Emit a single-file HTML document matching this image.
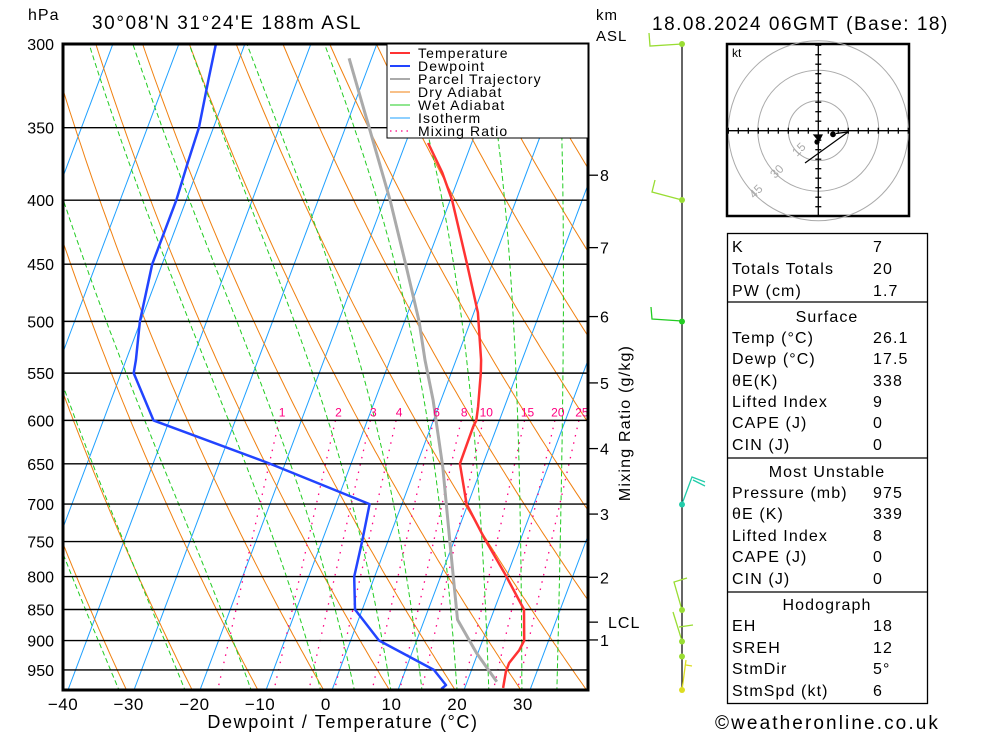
<!DOCTYPE html>
<html><head><meta charset="utf-8"><title>Skew-T</title>
<style>
html,body{margin:0;padding:0;background:#fff;}
svg{display:block;font-family:"Liberation Sans",sans-serif;}
.t16{font-size:16px;letter-spacing:1.1px;}
</style></head>
<body>
<svg id="chart" width="1000" height="733" viewBox="0 0 1000 733" xmlns="http://www.w3.org/2000/svg">
  <defs><clipPath id="plotclip"><rect x="63" y="44" width="525" height="646"/></clipPath></defs>
  <rect x="0" y="0" width="1000" height="733" fill="#fff"/>
  <text x="28" y="20" font-size="16" letter-spacing="1">hPa</text>
  <text x="92" y="29" font-size="19" letter-spacing="1.6">30°08'N 31°24'E 188m ASL</text>
  <text x="652" y="30" font-size="19" letter-spacing="1.5">18.08.2024 06GMT (Base: 18)</text>
  <text x="596" y="20" font-size="15" letter-spacing="1">km</text>
  <text x="596" y="41" font-size="15" letter-spacing="1">ASL</text>
  <g id="grid" clip-path="url(#plotclip)"></g>
  <g id="plevels"></g>
  <g id="series" clip-path="url(#plotclip)"></g>
  <g id="mrlabels"></g>
  <rect x="63" y="44" width="525" height="646" fill="none" stroke="#000" stroke-width="3"/>
  <g id="xaxis"></g>
  <text x="343" y="728" font-size="18" letter-spacing="1.6" text-anchor="middle">Dewpoint / Temperature (°C)</text>
  <g id="kmaxis"></g>
  <text transform="translate(630,423) rotate(-90)" font-size="16" letter-spacing="1.2" text-anchor="middle">Mixing Ratio (g/kg)</text>

  <g>
    <rect x="387" y="44" width="201" height="94" fill="#fff" stroke="#000" stroke-width="1"/>
    <g font-size="14" letter-spacing="1.1">
      <line x1="390" y1="53" x2="410" y2="53" stroke="#ff3333" stroke-width="2"/><text x="418" y="58">Temperature</text>
      <line x1="390" y1="66" x2="410" y2="66" stroke="#2244ff" stroke-width="2"/><text x="418" y="71">Dewpoint</text>
      <line x1="390" y1="79" x2="410" y2="79" stroke="#aaaaaa" stroke-width="2"/><text x="418" y="84">Parcel Trajectory</text>
      <line x1="390" y1="92" x2="410" y2="92" stroke="#f08010" stroke-width="1"/><text x="418" y="97">Dry Adiabat</text>
      <line x1="390" y1="105" x2="410" y2="105" stroke="#22cc22" stroke-width="1"/><text x="418" y="110">Wet Adiabat</text>
      <line x1="390" y1="118" x2="410" y2="118" stroke="#1ea0ff" stroke-width="1"/><text x="418" y="123">Isotherm</text>
      <line x1="390" y1="131" x2="410" y2="131" stroke="#ff0080" stroke-width="1.2" stroke-dasharray="1.5,4"/><text x="418" y="136">Mixing Ratio</text>
    </g>
  </g>

  <g fill="none" stroke-width="1.3">
    <line x1="682" y1="44" x2="682" y2="690" stroke="#000" stroke-width="1.2"/>
    <polyline points="682,44 650,46 649,33" stroke="#99dd33"/>
    <polyline points="682,200 652,192 655,180" stroke="#99dd33"/>
    <polyline points="682,321 652,319 651,307" stroke="#22cc22"/>
    <polyline points="682,504 692,477 705,482" stroke="#22ccaa"/>
    <line x1="693" y1="480" x2="705" y2="486" stroke="#22ccaa"/>
    <polyline points="682,610 674,582 687,578" stroke="#99dd33"/>
    <polyline points="682,641 673,612" stroke="#99dd33"/>
    <line x1="679" y1="627" x2="693" y2="625" stroke="#99dd33"/>
    <polyline points="682,690 686,660" stroke="#dddd22"/>
    <line x1="686" y1="665" x2="692" y2="666" stroke="#dddd22"/>
    <g stroke="none">
      <circle cx="682" cy="44" r="3" fill="#99dd33"/><circle cx="682" cy="200" r="3" fill="#99dd33"/>
      <circle cx="682" cy="321.5" r="3" fill="#22cc22"/><circle cx="682" cy="504.5" r="3" fill="#22ccaa"/>
      <circle cx="682" cy="610" r="3" fill="#99dd33"/><circle cx="682" cy="641.5" r="3" fill="#99dd33"/>
      <circle cx="682" cy="656.5" r="3" fill="#99dd33"/><circle cx="682" cy="690" r="3" fill="#dddd22"/>
    </g>
  </g>

  <g>
    <rect x="727" y="44" width="182" height="172" fill="#fff" stroke="#000" stroke-width="2.5"/>
    <text x="732" y="57" font-size="12">kt</text>
    <g fill="none" stroke="#aaaaaa" stroke-width="1">
      <circle cx="818.3" cy="130.7" r="30"/>
      <circle cx="818.3" cy="130.7" r="60.5"/>
      <circle cx="818.3" cy="130.7" r="90"/>
    </g>
    <g id="hodoaxes" stroke="#000" stroke-width="1.3"></g>
    <g font-size="12" fill="#aaaaaa">
      <text transform="translate(797,157) rotate(-45)">15</text>
      <text transform="translate(775,179) rotate(-45)">30</text>
      <text transform="translate(754,199) rotate(-45)">45</text>
    </g>
    <g stroke="#000" stroke-width="1.2" fill="#000">
      <line x1="805" y1="163" x2="848" y2="132"/>
      <line x1="836" y1="133.5" x2="848" y2="132"/>
      <path d="M814,135 L822,135 L819,141 Z"/>
      <circle cx="817" cy="142" r="2"/>
      <circle cx="833" cy="134.3" r="2.3"/>
    </g>
  </g>

  <g class="t16">
    <rect x="727.5" y="233.5" width="200" height="470" fill="none" stroke="#000" stroke-width="1.3"/>
    <line x1="727.5" y1="302" x2="927.5" y2="302" stroke="#000" stroke-width="1.3"/>
    <line x1="727.5" y1="458" x2="927.5" y2="458" stroke="#000" stroke-width="1.3"/>
    <line x1="727.5" y1="592" x2="927.5" y2="592" stroke="#000" stroke-width="1.3"/>
    <g id="tablerows"></g>
  </g>
  <text x="715" y="729" font-size="19" letter-spacing="2.1">©weatheronline.co.uk</text>
</svg>
<script>
// ---- data ----
const pressureLevels = [300,350,400,450,500,550,600,650,700,750,800,850,900,950];
const tempTicks = [-40,-30,-20,-10,0,10,20,30];
const tempP = [360,380,400,449,492,537,550,585,600,607,650,700,744,795,850,900,916,938,953,982];
const tempT = [-16.6,-12.8,-9.7,-3.9,0.6,3.8,4.5,6.0,6.5,6.4,6.5,9.8,14.3,19.5,24.5,26.3,26.1,25.3,25.3,25.8];
const dewP = [300,320,350,373,400,450,500,537,550,600,649,700,750,800,850,900,950,977,984];
const dewT = [-54.4,-53.5,-52.2,-51.9,-51.5,-51.5,-50.1,-48.5,-48.1,-42.4,-22.6,-4.9,-3.9,-3.1,-1.1,4.3,14.3,17.0,16.5];
const parcelP = [308,350,400,449,500,537,578,654,752,866,921,971];
const parcelT = [-33.4,-26.4,-19.1,-13.2,-7.8,-4.7,-1.2,4.1,9.5,15.0,19.8,24.5];
const mixingRatios = [1,2,3,4,6,8,10,15,20,25];
const wetStartT = [-42,-32,-22,-12,-1.5,3.6,9.1,13.8,19.1,23.9,28.9,34.2];
const kmLabels = ["8","7","6","5","4","3","2","LCL","1"];
const kmPressures = [382,436.5,495.6,560,632,713,801,870,899];
const tableLabels = ["K","Totals Totals","PW (cm)","","Temp (°C)","Dewp (°C)","θE(K)","Lifted Index","CAPE (J)","CIN (J)","","Pressure (mb)","θE (K)","Lifted Index","CAPE (J)","CIN (J)","","EH","SREH","StmDir","StmSpd (kt)"];
const tableValues = ["7","20","1.7","Surface","26.1","17.5","338","9","0","0","Most Unstable","975","339","8","0","0","Hodograph","18","12","5°","6"];
const tableRowY = [252,274,296,322,343,364,386,407,428,450,477,498,519,541,562,584,610,631,653,674,696];

const NS="http://www.w3.org/2000/svg";
function yP(p){return 44+543*Math.log(p/300);}
function xT(T,y){return 68+(T+40)*6.6+0.376*(690-y);}
function el(tag,attrs,parent){const e=document.createElementNS(NS,tag);for(const k in attrs)e.setAttribute(k,attrs[k]);parent.appendChild(e);return e;}

const grid=document.getElementById('grid');
for(let T=-120;T<=40;T+=10){
  const l=el('line',{x1:xT(T,690),y1:690,x2:xT(T,44),y2:44,stroke:'#1ea0ff','stroke-width':1},grid);
  
  
}
// dry adiabats (Poisson)
for(let th=213;th<=403;th+=10){
  let pts=[];
  for(let p=295;p<=990;p+=5){const T=th*Math.pow(p/1000,0.286)-273.15;const y=yP(p);pts.push(xT(T,y).toFixed(1)+','+y.toFixed(1));}
  const l=el('polyline',{points:pts.join(' '),fill:'none',stroke:'#f08010','stroke-width':1},grid);
  
  
}
// wet adiabats
function moistRatio(T,p){const Tk=T+273.15;const es=6.112*Math.exp(17.67*T/(T+243.5));const r=0.622*es/Math.max(p-es,1);const Lv=2.5e6,Rd=287,cp=1004;return (1+Lv*r/(Rd*Tk))/(1+Lv*Lv*r*0.622/(cp*Rd*Tk*Tk));}
wetStartT.forEach(T0=>{
  let T=T0,lp=Math.log(990),pts=[];
  while(lp>Math.log(290)){
    const p=Math.exp(lp),y=yP(p);pts.push(xT(T,y).toFixed(1)+','+y.toFixed(1));
    const dl=-0.005;const Tk=T+273.15;
    T+=moistRatio(T,p)*0.286*Tk*dl;lp+=dl;
  }
  const l=el('polyline',{points:pts.join(' '),fill:'none',stroke:'#22cc22','stroke-width':1,'stroke-dasharray':'5,3'},grid);
  
  
});
// mixing ratio lines
const mrl=document.getElementById('mrlabels');
mixingRatios.forEach(w=>{
  const p=984,e=w*p/(622+w),a=Math.log(e/6.112),Td=243.5*a/(17.67-a);
  const xb=xT(Td,690);
  const y0=yP(600);
  const xTop=xb+0.228*(690-y0);
  const l=el('line',{x1:xTop,y1:y0,x2:xb,y2:690,stroke:'#ff0080','stroke-width':1.3,'stroke-dasharray':'1.5,6'},grid);
  
  
  const t=el('text',{x:xTop+3,y:y0-4,'font-size':12,fill:'#ff0080','text-anchor':'middle'},mrl);
  t.textContent=w;
  
  
});
const pl=document.getElementById('plevels');
pressureLevels.forEach(p=>{
  const y=yP(p);
  const l=el('line',{x1:63,y1:y,x2:588,y2:y,stroke:'#000','stroke-width':1.4},pl);
  
  
  const t=el('text',{x:54,y:y+6,'font-size':16,'text-anchor':'end'},pl);
  t.textContent=p;
  
  
});
const xa=document.getElementById('xaxis');
tempTicks.forEach(T=>{
  const t=el('text',{x:63+(T+40)*6.57,y:710,'font-size':17,'text-anchor':'middle','letter-spacing':'0.5'},xa);
  t.textContent=(T<0?'\u2212':'')+Math.abs(T);
  
  
});
const ser=document.getElementById('series');
function drawSeries(P,T,color,w,name){
  const pts=P.map((p,i)=>{const y=yP(p);return xT(T[i],y).toFixed(1)+','+y.toFixed(1);});
  const l=el('polyline',{points:pts.join(' '),fill:'none',stroke:color,'stroke-width':w,'stroke-linejoin':'round'},ser);
  
  
}
drawSeries(parcelP,parcelT,'#aaaaaa',3,'parcel-trajectory-line');
drawSeries(dewP,dewT,'#2244ff',2.5,'dewpoint-line');
drawSeries(tempP,tempT,'#ff3333',2.5,'temperature-line');
const ka=document.getElementById('kmaxis');
kmLabels.forEach((lab,i)=>{
  const y=yP(kmPressures[i]);
  const ln=el('line',{x1:588,y1:y,x2:598,y2:y,stroke:'#000','stroke-width':1.3},ka);
  
  
  const t=el('text',{x:lab==='LCL'?608:600,y:y+6,'font-size':16,'letter-spacing':'1'},ka);
  t.textContent=lab;
  
  
});
const ha=document.getElementById('hodoaxes');
const cx=818.3,cy=130.7;
el('line',{x1:727,y1:cy,x2:909,y2:cy},ha);
el('line',{x1:cx,y1:44,x2:cx,y2:216},ha);
for(let d=-90;d<=90;d+=10){ if(d===0)continue;
  el('line',{x1:cx+d,y1:cy-3,x2:cx+d,y2:cy+3},ha);
  el('line',{x1:cx-3,y1:cy+d*0.95,x2:cx+3,y2:cy+d*0.95},ha);
}
const tr=document.getElementById('tablerows');
tableLabels.forEach((lab,i)=>{
  const y=tableRowY[i];
  if(lab===""){
    const t=el('text',{x:827,y:y,'text-anchor':'middle'},tr);
    t.textContent=tableValues[i];
    
    
  } else {
    const a=el('text',{x:732,y:y},tr);
    a.textContent=lab;
    
    
    const b=el('text',{x:873,y:y},tr);
    b.textContent=tableValues[i];
    
    
  }
});
</script>
</body></html>
